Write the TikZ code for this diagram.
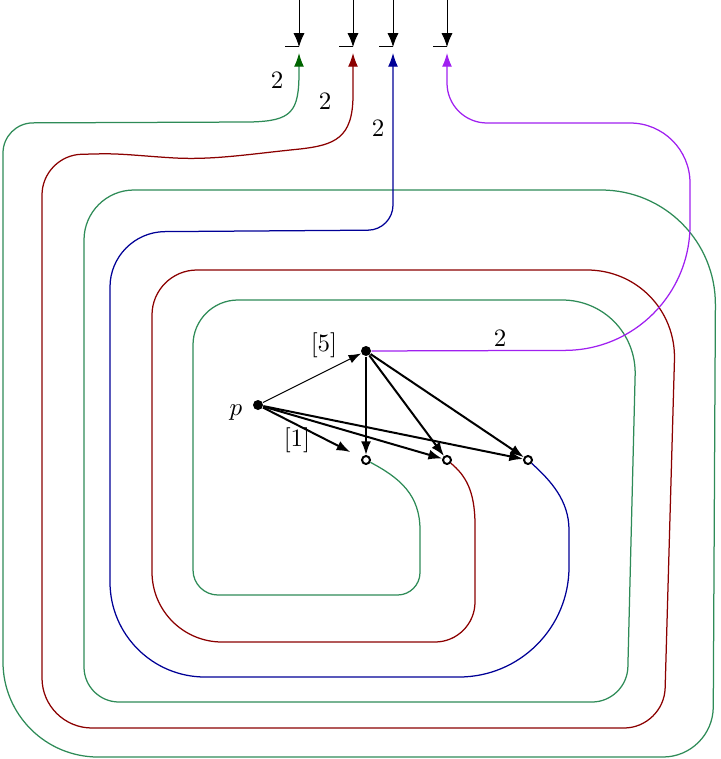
\documentclass[tikz,border=0pt]{standalone}
\usepackage{amsmath,amssymb}
\usepackage{tikz}
\usetikzlibrary{arrows.meta,positioning}

\definecolor{wireG}{RGB}{46,139,87}
\definecolor{headG}{RGB}{0,100,0}
\definecolor{wireR}{RGB}{139,0,0}
\definecolor{wireB}{RGB}{0,0,150}
\definecolor{wireP}{RGB}{160,32,240}

\begin{document}
\begin{tikzpicture}[x=0.4pt, y=-0.4pt,
        dot/.style = {circle, fill, inner sep=0pt, minimum size=4pt},
        hole/.style = {draw, circle, thick, inner sep=0pt, minimum size=3.2pt},
        edge/.style = {thick, -{Latex[length=5.5pt,width=4pt]}},
        wire/.style = {line width=0.5pt},
        inarrow/.style = {-{Latex[length=5.5pt,width=4.4pt]}},]
        \useasboundingbox (0,0) rectangle (720,759);

        % the small graph
        \node[dot] (p) at (258,405) {};
        \node[dot] (q) at (366,351) {};
        \node[hole] (c1) at (366,460) {};
        \node[hole] (c2) at (447,460) {};
        \node[hole] (c3) at (528,460) {};
        \node (lp) at (236,413) {$p$};
        \node (l5) at (324,345) {$[5]$};
        \node (l1) at (297,440) {$[1]$};

        \draw[-{Latex[length=5pt,width=3.6pt]}] (p) -- (q);
        \draw[edge] (q) -- (c1);
        \draw[edge] (q) -- (c2);
        \draw[edge] (q) -- (c3);
        \draw[edge, shorten >=5pt] (p) -- (c1);
        \draw[edge] (p) -- (c2);
        \draw[edge] (p) -- (c3);

        % incoming ends at the top
        \coordinate (t1) at (299,0);  \coordinate (i1) at (299,47);
        \coordinate (t2) at (353,0);  \coordinate (i2) at (353,47);
        \coordinate (t3) at (393,0);  \coordinate (i3) at (393,47);
        \coordinate (t4) at (447,0);  \coordinate (i4) at (447,47);
        \draw[inarrow] (t1) -- (i1);
        \draw[inarrow] (t2) -- (i2);
        \draw[inarrow] (t3) -- (i3);
        \draw[inarrow] (t4) -- (i4);
        \draw (i1) -- ++(-14,0);
        \draw (i2) -- ++(-14,0);
        \draw (i3) -- ++(-14,0);
        \draw (i4) -- ++(-14,0);

        \coordinate (g1) at (299,53);
        \coordinate (r1) at (353,53);
        \coordinate (b1) at (393,53);
        \coordinate (v1) at (447,53);

        % green
        \draw[wire, wireG, {Latex[length=5.5pt,width=4pt,color=headG]}-]
            (g1) -- (299,72) .. controls (299,112) and (292,121) .. (250,122)
            [rounded corners=12pt] -- (3,123)
            [rounded corners=38pt] -- (3,757)
            [rounded corners=20pt] -- (713,757)
            [rounded corners=46pt] -- (716,190)
            [rounded corners=20pt] -- (84,190)
            [rounded corners=14pt] -- (84,702)
            [rounded corners=14pt] -- (627,702)
            [rounded corners=30pt] -- (637,300)
            [rounded corners=18pt] -- (193,300)
            [rounded corners=10pt] -- (193,595)
            [rounded corners=9pt] -- (420,595)
            [sharp corners] -- (420,530)
            .. controls (420,495) and (400,478) .. (c1);
        % red
        \draw[wire, wireR, {Latex[length=5.5pt,width=4pt]}-]
            (r1) -- (353,95) .. controls (353,138) and (335,145) .. (300,149)
            .. controls (250,154) and (215,160) .. (175,158)
            .. controls (140,156) and (120,153) .. (95,154)
            [rounded corners=16pt] -- (42,155)
            [rounded corners=20pt] -- (42,728)
            [rounded corners=16pt] -- (664,728)
            [rounded corners=36pt] -- (677,270)
            [rounded corners=18pt] -- (152,270)
            [rounded corners=28pt] -- (152,642)
            [rounded corners=16pt] -- (475,642)
            [sharp corners] -- (475,525)
            .. controls (475,490) and (465,475) .. (c2);
        % blue
        \draw[wire, wireB, {Latex[length=5.5pt,width=4pt]}-]
            (b1) [rounded corners=10pt] -- (393,230)
            [rounded corners=22pt] -- (110,232)
            [rounded corners=38pt] -- (110,677)
            [rounded corners=44pt] -- (569,677)
            [sharp corners] -- (569,530)
            .. controls (569,500) and (550,480) .. (c3);
        % purple
        \draw[wire, wireP, {Latex[length=5.5pt,width=4pt]}-]
            (v1) [rounded corners=16pt] -- (447,123)
            [rounded corners=24pt] -- (690,123)
            [rounded corners=50pt] -- (690,350) -- (q);

        \node (lg) at (277,80) {$2$};
        \node (lr) at (325,101) {$2$};
        \node (lb) at (378,128) {$2$};
        \node (lv) at (500,338) {$2$};
    \end{tikzpicture}
\end{document}
